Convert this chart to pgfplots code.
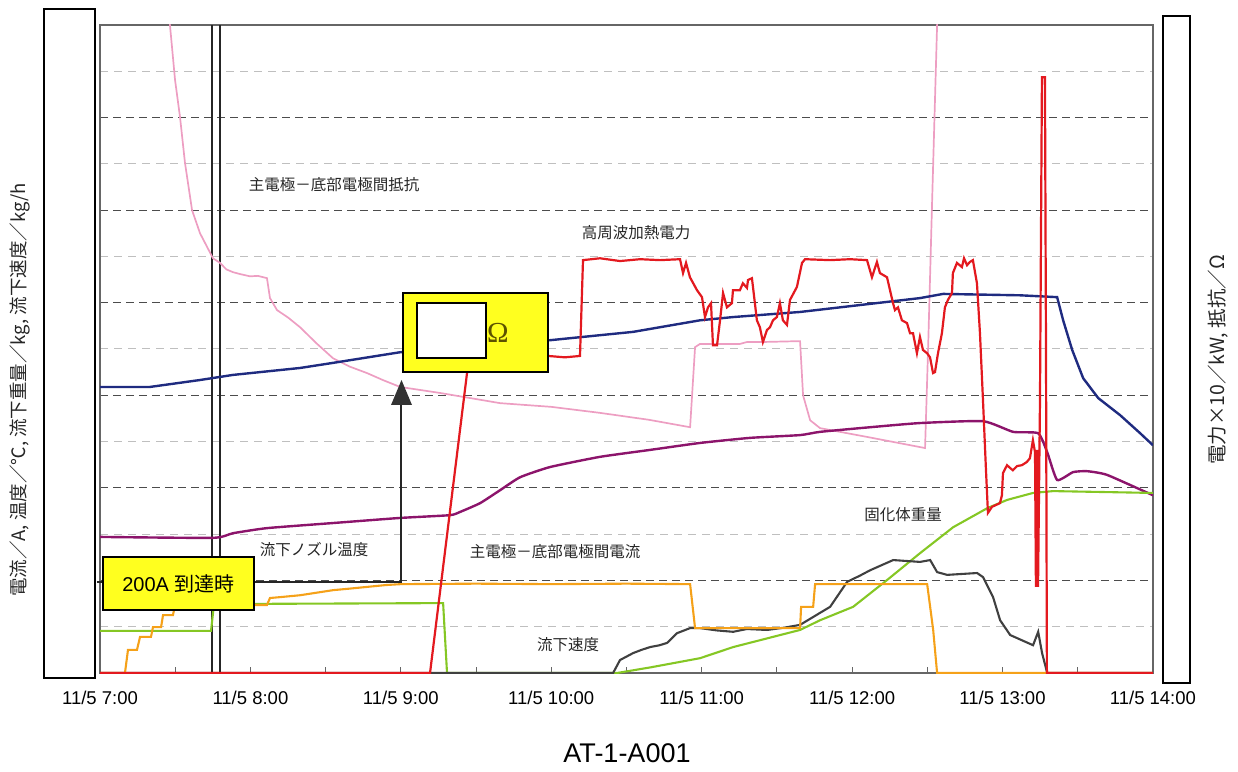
\documentclass[border=0pt]{standalone}
\usepackage{fontspec}
\setmainfont{Liberation Sans}
\newfontfamily\jp{Noto Sans CJK JP}
\newfontfamily\serifomega{Liberation Serif}
\usepackage{pgfplots}
\pgfplotsset{compat=1.18}
\definecolor{cpink}{rgb}{0.93,0.62,0.76}
\definecolor{cnavy}{rgb}{0.12,0.17,0.50}
\definecolor{cpurple}{rgb}{0.55,0.08,0.42}
\definecolor{corange}{rgb}{0.96,0.63,0.10}
\definecolor{cgreen}{rgb}{0.52,0.78,0.14}
\definecolor{cgray}{rgb}{0.25,0.25,0.25}
\definecolor{cred}{rgb}{0.89,0.10,0.12}
\definecolor{cyellow}{rgb}{1.0,1.0,0.12}
\definecolor{comega}{rgb}{0.36,0.32,0.0}
\newcommand\fsz[1]{\fontsize{#1}{#1}\selectfont}
\begin{document}
\begin{tikzpicture}
\useasboundingbox (0,0) rectangle (1238pt,771pt);
\begin{axis}[
  at={(100pt,98pt)}, anchor=south west,
  width=1053pt, height=648pt, scale only axis,
  xmin=7, xmax=14, ymin=0, ymax=14,
  axis line style={black!60, line width=1.1pt},
  xtick={7,8,9,10,11,12,13,14},
  xticklabels={11/5 7:00,11/5 8:00,11/5 9:00,11/5 10:00,11/5 11:00,11/5 12:00,11/5 13:00,11/5 14:00},
  minor xtick={7.5,8.5,9.5,10.5,11.5,12.5,13.5},
  xtick pos=bottom,
  tick align=inside,
  major tick length=6pt, minor tick length=6pt,
  x tick style={black!60, line width=1pt},
  xticklabel style={font=\fsz{18.5}, anchor=base, yshift=-31pt},
  ytick={2,4,6,8,10,12}, minor ytick={1,3,5,7,9,11,13},
  yticklabels={}, y tick style={draw=none},
  ymajorgrids, yminorgrids,
  major grid style={black!70, dash pattern=on 8pt off 5pt, line width=1.1pt},
  minor grid style={black!25, dash pattern=on 8pt off 6pt, line width=1pt},
]
% vertical double line
\addplot[black!85, line width=1.6pt] coordinates {(7.745,0) (7.745,14)};
\addplot[black!85, line width=1.6pt] coordinates {(7.798,0) (7.798,14)};
% pink: resistance
\addplot[cpink, line width=1.7pt] coordinates {
(7.445,14.6) (7.465,14.0) (7.499,12.81) (7.532,12.01) (7.565,11.02) (7.612,10.00)
(7.665,9.50) (7.751,8.96) (7.798,8.86) (7.84,8.72) (7.884,8.66) (7.93,8.62)
(7.997,8.57) (8.05,8.58) (8.110,8.53) (8.130,8.10) (8.177,7.84) (8.25,7.68)
(8.330,7.47) (8.44,7.12) (8.549,6.80) (8.66,6.62) (8.775,6.48) (8.88,6.33)
(8.995,6.18) (9.261,6.05) (9.660,5.83) (10.0,5.75) (10.324,5.62) (10.65,5.47)
(10.923,5.31) (10.956,7.04) (10.989,7.11) (11.255,7.11) (11.30,7.15) (11.388,7.15)
(11.654,7.17) (11.674,6.00) (11.721,5.46) (11.787,5.29) (12.1,5.10) (12.485,4.86)
(12.505,6.98) (12.532,10.2) (12.565,14.0) (12.57,14.6)};
% navy
\addplot[cnavy, line width=2.4pt] coordinates {
(7.000,6.18) (7.332,6.18) (7.665,6.33) (7.884,6.44) (8.330,6.59) (8.549,6.70)
(8.995,6.93) (9.992,7.19) (10.544,7.37) (10.989,7.62) (11.209,7.69) (11.654,7.80)
(12.452,8.10) (12.605,8.19) (13.117,8.16) (13.363,8.12) (13.403,7.62) (13.463,6.98)
(13.536,6.37) (13.636,5.94) (13.782,5.57) (13.915,5.18) (14.0,4.92)};
% purple: nozzle temperature
\addplot[cpurple, line width=2.4pt, smooth, tension=0.3] coordinates {
(7,2.94) (7.751,2.92) (7.884,3.02) (8.110,3.13) (8.549,3.24) (8.995,3.35)
(9.327,3.41) (9.394,3.48) (9.527,3.67) (9.660,3.95) (9.793,4.23) (9.992,4.45)
(10.324,4.67) (10.657,4.82) (10.989,4.97) (11.322,5.08) (11.654,5.14) (11.787,5.21)
(12.120,5.31) (12.452,5.40) (12.871,5.44) (13.070,5.21) (13.237,5.18) (13.297,4.77)
(13.363,4.17) (13.469,4.34) (13.562,4.36) (13.695,4.28) (14.0,3.84)};
% green: solidified weight
\addplot[cgreen, line width=2.1pt] coordinates {
(7,0.91) (7.738,0.91) (7.758,1.49) (9.281,1.51) (9.307,0) (10.437,0)
(10.657,0.12) (10.989,0.32) (11.209,0.56) (11.654,0.93) (11.787,1.14) (12.007,1.43)
(12.233,2.01) (12.452,2.59) (12.672,3.15) (12.898,3.56) (13.031,3.74) (13.203,3.89)
(13.336,3.93) (14,3.89)};
% dark gray: flow rate
\addplot[cgray, line width=2.1pt] coordinates {
(7,0) (10.411,0) (10.457,0.28) (10.544,0.43) (10.60,0.50) (10.657,0.56) (10.72,0.60)
(10.770,0.65) (10.836,0.86) (10.923,0.97) (10.989,0.97) (11.10,0.92) (11.209,0.89)
(11.30,0.95) (11.435,0.93) (11.55,0.98) (11.654,1.04) (11.787,1.30) (11.854,1.43)
(11.967,1.97) (12.05,2.10) (12.120,2.22) (12.273,2.44) (12.452,2.40) (12.519,2.44)
(12.565,2.18) (12.632,2.12) (12.831,2.16) (12.871,2.07) (12.937,1.64) (12.984,1.14)
(13.051,0.82) (13.203,0.60) (13.237,0.89) (13.263,0.43) (13.297,0) (14,0)};
% orange: current
\addplot[corange, line width=2.1pt] coordinates {
(7,0) (7.166,0) (7.186,0.50) (7.246,0.50) (7.266,0.78) (7.339,0.78) (7.352,0.99)
(7.406,0.99) (7.419,1.25) (7.485,1.25) (7.499,1.47) (8.110,1.47) (8.130,1.62)
(8.2,1.64) (8.33,1.68) (8.45,1.74) (8.55,1.79) (8.65,1.82) (8.775,1.86) (8.9,1.90)
(9.0,1.92) (9.5,1.93) (10.0,1.92) (10.5,1.93) (10.923,1.92) (10.956,0.97)
(11.654,0.97) (11.661,1.43) (11.741,1.43) (11.754,1.92) (12.499,1.92) (12.539,0.93)
(12.565,0) (14,0)};
% red: HF heating power
\addplot[cred, line width=2.2pt] coordinates {
(7,0) (9.194,0) (9.440,6.48) (9.473,6.82) (9.660,6.85) (9.792,6.80) (9.978,6.85)
(10.091,6.82) (10.191,6.85) (10.211,8.92) (10.324,8.96) (10.457,8.90) (10.590,8.94)
(10.723,8.92) (10.856,8.94) (10.876,8.64) (10.896,8.86) (10.922,8.55) (10.969,8.27)
(11.002,8.12) (11.022,7.69) (11.042,7.90) (11.062,7.99) (11.075,7.08) (11.102,7.08)
(11.122,7.62) (11.142,8.21) (11.168,7.90) (11.201,7.99) (11.208,8.27) (11.254,8.27)
(11.274,8.42) (11.301,8.32) (11.308,8.49) (11.334,8.53) (11.341,8.34) (11.367,7.62)
(11.387,7.47) (11.407,7.15) (11.434,7.41) (11.454,7.47) (11.474,7.62) (11.500,7.69)
(11.520,7.99) (11.540,7.62) (11.567,7.52) (11.587,8.06) (11.633,8.34) (11.667,8.86)
(11.687,8.94) (11.853,8.92) (11.986,8.94) (12.099,8.92) (12.132,8.55) (12.165,8.88)
(12.185,8.64) (12.232,8.55) (12.252,8.27) (12.272,7.99) (12.285,7.84) (12.305,7.90)
(12.331,7.62) (12.365,7.56) (12.385,7.34) (12.405,7.34) (12.431,6.91) (12.451,7.26)
(12.471,6.98) (12.498,6.91) (12.518,6.82) (12.538,6.48) (12.551,6.50) (12.571,6.91)
(12.597,7.34) (12.617,7.90) (12.637,8.06) (12.664,8.21) (12.670,8.64) (12.697,8.86)
(12.730,8.77) (12.744,8.96) (12.764,8.81) (12.783,8.88) (12.803,8.92) (12.830,8.42)
(12.850,7.34) (12.870,5.90) (12.890,4.38) (12.903,3.46) (12.930,3.59) (12.983,3.67)
(12.996,3.84) (13.003,4.32) (13.030,4.49) (13.050,4.43) (13.069,4.38) (13.096,4.47)
(13.129,4.49) (13.162,4.56) (13.182,4.64) (13.202,5.03) (13.216,4.77) (13.222,1.86)
(13.229,4.82) (13.236,1.86) (13.249,5.90) (13.262,12.87) (13.282,12.87) (13.289,6.98)
(13.295,0) (14,0)};
\end{axis}
% text labels inside plot
\begin{scope}[every node/.style={font=\jp\fsz{15.5}, text=black!85, inner sep=0pt}]
\node at (334pt,586pt) {主電極－底部電極間抵抗};
\node at (636pt,538pt) {高周波加熱電力};
\node at (314pt,221pt) {流下ノズル温度};
\node at (555pt,219pt) {主電極－底部電極間電流};
\node at (568pt,126pt) {流下速度};
\node at (903pt,256pt) {固化体重量};
\end{scope}
% white side boxes
\draw[line width=1.8pt, fill=white] (44pt,93pt) rectangle (95pt,762pt);
\draw[line width=1.8pt, fill=white] (1163pt,88pt) rectangle (1190pt,755pt);
% axis titles
\node[rotate=90, font=\jp\fsz{18.5}, text=black!85, inner sep=0pt] at (20pt,381pt) {電流／A, 温度／℃, 流下重量／kg, 流下速度／kg/h};
\node[rotate=90, font=\jp\fsz{19.5}, text=black!85, inner sep=0pt] at (1218pt,411pt) {電力×10／kW, 抵抗／Ω};
% leader lines and arrow
\draw[line width=1.5pt, black!85] (97pt,189pt) -- (103pt,189pt);
\draw[line width=1.5pt, black!85] (254pt,189pt) -- (401pt,189pt) -- (401pt,367pt);
\fill[black!80] (391pt,366pt) -- (412pt,366pt) -- (401.5pt,391pt) -- cycle;
% 200A box
\draw[line width=1.8pt, fill=cyellow] (103pt,161pt) rectangle (254pt,214pt);
\node[font=\fsz{20}, inner sep=0pt] at (178.5pt,187.5pt) {200A {\jp 到達時}};
% Omega box
\draw[line width=1.8pt, fill=cyellow] (403pt,399pt) rectangle (548pt,478pt);
\draw[line width=1.8pt, fill=white] (417pt,413pt) rectangle (486pt,468pt);
\node[font=\serifomega\fsz{29}, text=comega, inner sep=0pt] at (498pt,438pt) {Ω};
% title
\node[font=\fsz{27}, anchor=base, inner sep=0pt] at (627pt,9pt) {AT-1-A001};
\end{tikzpicture}
\end{document}
